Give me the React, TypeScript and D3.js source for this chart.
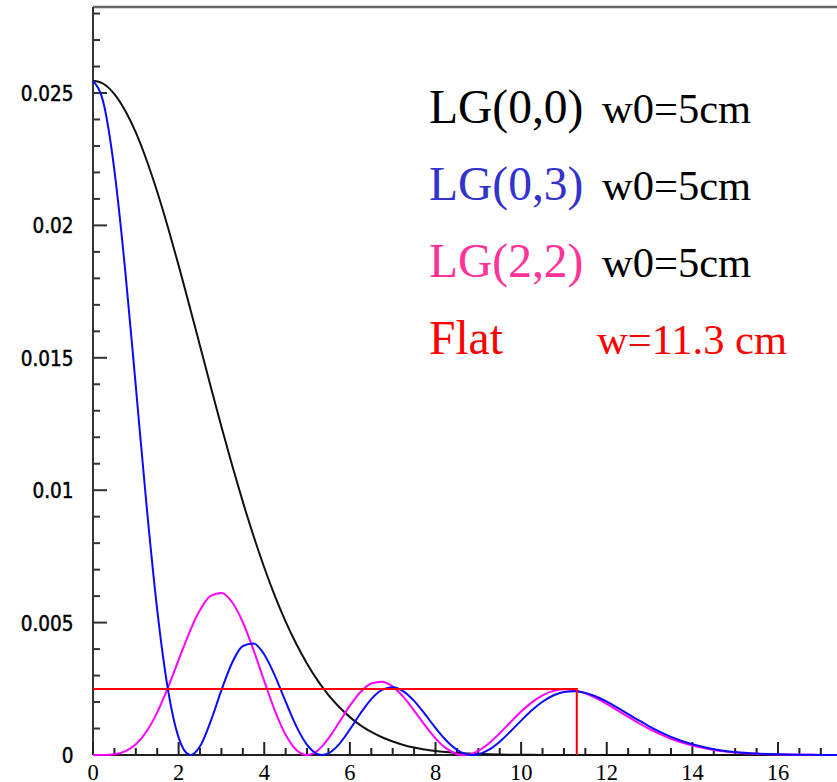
import React from "react";
import * as d3 from "d3";

// ---- data ----
const radius = [0,0.25,0.5,0.75,1,1.25,1.5,1.75,2,2.25,2.28,2.5,2.75,3,3.25,3.5,3.75,4,4.25,4.5,4.75,5,5.25,5.355,5.5,5.75,6,6.25,6.5,6.75,7,7.25,7.5,7.75,8,8.25,8.5,8.66,8.75,8.867,9,9.25,9.5,9.75,10,10.25,10.5,10.75,11,11.25,11.5,11.75,12,12.25,12.5,12.75,13,13.5,14,14.5,15,15.5,16,16.5,17,17.4];

const lg00 = [0.02546,0.02534,0.02496,0.02434,0.02351,0.02247,0.02127,0.01993,0.01849,0.01698,0.0168,0.01545,0.01391,0.0124,0.01094,0.00956,0.00827,0.00708,0.006,0.00504,0.00419,0.00345,0.00281,0.00257,0.00226,0.00181,0.00143,0.00112,0.00087,0.00067,0.00051,0.00038,0.00028,0.00021,0.00015,0.00011,0.000079,0.000063,0.000056,0.000047,0.000039,0.000027,0.000019,0.000013,0.0000085,0.0000057,0.0000038,0.0000025,0.0000016,0.000001,0,0,0,0,0,0,0,0,0,0,0,0,0,0,0,0];

const lg03 = [0.02546,0.02459,0.02208,0.01834,0.01392,0.00944,0.00548,0.00248,0.000655,0.0000068,0,0.000328,0.001276,0.00245,0.003486,0.004116,0.004213,0.003793,0.002991,0.002013,0.001081,0.000383,0.0000332,0,0.0000598,0.000408,0.000962,0.001577,0.002112,0.002459,0.002558,0.002404,0.002043,0.001551,0.001022,0.000548,0.000199,0.0000631,0.0000202,0,0.0000253,0.000199,0.000503,0.000888,0.001299,0.001688,0.002012,0.002247,0.002379,0.00241,0.002347,0.002209,0.002016,0.001789,0.001546,0.001304,0.001075,0.000685,0.000404,0.000221,0.000113,0.0000539,0.0000242,0.0000102,0.0000041,0.000002];

const lg22 = [0,0.0000019,0.0000292,0.000139,0.000405,0.000888,0.001611,0.002543,0.003592,0.004622,0.004738,0.005475,0.006006,0.006115,0.005768,0.005014,0.003966,0.002791,0.001669,0.000763,0.00019,0,0.000172,0.000334,0.000625,0.001234,0.001862,0.002381,0.002698,0.002763,0.00258,0.002193,0.001678,0.001127,0.000627,0.000248,0.0000379,0,0.0000116,0.0000603,0.000158,0.000444,0.000821,0.001237,0.00164,0.001989,0.002255,0.002421,0.002483,0.002448,0.002331,0.002152,0.00193,0.001687,0.001439,0.001199,0.000978,0.000612,0.000354,0.000191,0.0000965,0.0000457,0.0000203,0.0000087,0.0000035,0.0000017];

const flatRadius = [0, 11.3, 11.3];
const flatValue = [0.002493, 0.002493, 0];

const xTickValues = [0,2,4,6,8,10,12,14,16];
const xTickLabels = ["0","2","4","6","8","10","12","14","16"];
const yTickValues = [0,0.005,0.01,0.015,0.02,0.025];
const yTickLabels = ["0","0.005","0.01","0.015","0.02","0.025"];

const legendNames = ["LG(0,0)", "LG(0,3)", "LG(2,2)", "Flat"];
const legendNotes = ["w0=5cm", "w0=5cm", "w0=5cm", "w=11.3 cm"];
const legendNameColors = ["#000000", "#3333cc", "#ff3399", "#ff0000"];
const legendNoteColors = ["#000000", "#000000", "#000000", "#ff0000"];

export default function App() {
  const W = 837, H = 782;
  const x = d3.scaleLinear().domain([0, 16]).range([93, 778]);
  const y = d3.scaleLinear().domain([0, 0.025]).range([755, 93]);
  const yTop = 0.02825;
  const xRight = 17.6;

  const line = d3
    .line<[number, number]>()
    .x((d) => x(d[0]))
    .y((d) => y(d[1]))
    .curve(d3.curveMonotoneX);
  const straight = d3
    .line<[number, number]>()
    .x((d) => x(d[0]))
    .y((d) => y(d[1]));

  const pts = (vals: number[]) => radius.map((r, i) => [r, vals[i]] as [number, number]);
  const flatPts = flatRadius.map((r, i) => [r, flatValue[i]] as [number, number]);

  const yMinor = d3.range(0, 28.5, 1).map((v) => v / 1000);
  const xMinor = d3.range(0, 35, 1).map((v) => v / 2);

  return (
    <svg width={W} height={H} style={{ position: "absolute", left: 0, top: 0, background: "#fff" }}>
      <rect x={0} y={0} width={W} height={H} fill="#fff" />
      {/* frame */}
      <line x1={x(0)} x2={x(xRight)} y1={y(yTop)} y2={y(yTop)} stroke="#666" strokeWidth={2.5} />
      <line x1={x(0)} x2={x(0)} y1={y(yTop)} y2={y(0)} stroke="#333" strokeWidth={2} />
      <line x1={x(0)} x2={x(xRight)} y1={y(0)} y2={y(0)} stroke="#222" strokeWidth={2} />

      {/* y ticks */}
      {yMinor.map((v, i) => (
        <line key={"ym" + i} x1={x(0)} x2={x(0) + (i % 5 === 0 ? 14 : 7)} y1={y(v)} y2={y(v)} stroke="#333" strokeWidth={2} />
      ))}
      {yTickValues.map((v, i) => (
        <text key={"yl" + i} x={73.5} y={y(v) + 8} textAnchor="end" fontFamily="DejaVu Sans Condensed, DejaVu Sans" fontSize={20.5} fill="#000" stroke="#000" strokeWidth={0.45}>
          {yTickLabels[i]}
        </text>
      ))}

      {/* x ticks */}
      {xMinor.map((v, i) => (
        <line key={"xm" + i} x1={x(v)} x2={x(v)} y1={y(0)} y2={y(0) - (i % 4 === 0 ? 13 : 7)} stroke="#222" strokeWidth={2} />
      ))}
      {xTickValues.map((v, i) => (
        <text key={"xl" + i} x={x(v)} y={779.5} textAnchor="middle" fontFamily="Liberation Serif" fontSize={22.5} fill="#000">
          {xTickLabels[i]}
        </text>
      ))}

      {/* curves */}
      <path d={line(pts(lg00)) || ""} fill="none" stroke="#111" strokeWidth={2} />
      <path d={line(pts(lg22)) || ""} fill="none" stroke="#ff00ff" strokeWidth={2} />
      <path d={line(pts(lg03)) || ""} fill="none" stroke="#0a0aff" strokeWidth={2} />
      <path d={straight(flatPts) || ""} fill="none" stroke="#ff0000" strokeWidth={2} />

      {/* legend */}
      {legendNames.map((n, i) => (
        <g key={"lg" + i}>
          <text x={429} y={123 + i * 77} fontFamily="Liberation Serif" fontSize={47.5} fill={legendNameColors[i]}>
            {n}
          </text>
          <text x={i === 3 ? 597 : 602} y={123 + i * 77} fontFamily="Liberation Serif" fontSize={42.5} fill={legendNoteColors[i]}>
            {legendNotes[i]}
          </text>
        </g>
      ))}
    </svg>
  );
}
